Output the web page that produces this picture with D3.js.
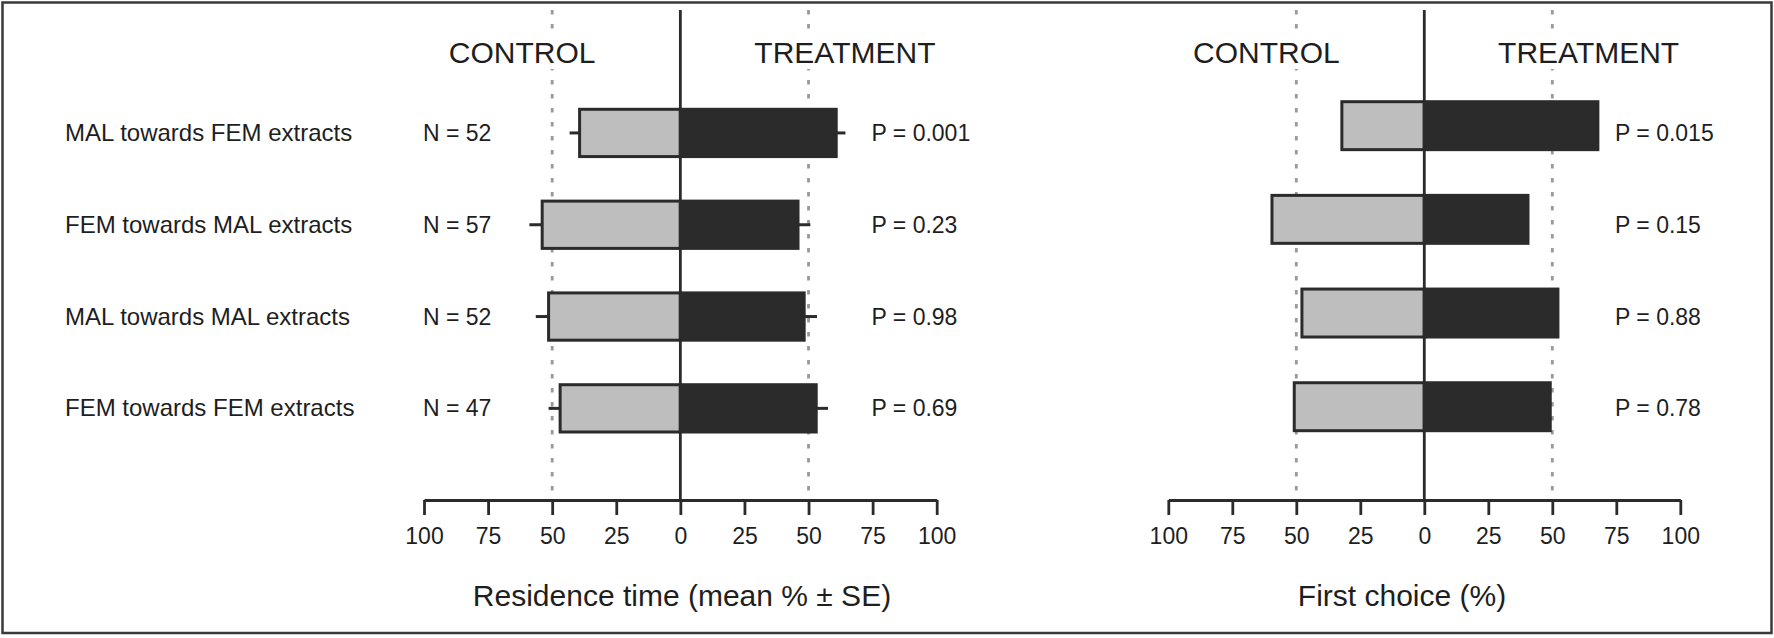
<!DOCTYPE html>
<html>
<head>
<meta charset="utf-8">
<script src="https://cdn.jsdelivr.net/npm/d3@7"></script>
<style>
  body { margin: 0; background: #fff; }
  svg { display: block; font-family: "Liberation Sans", Arial, Helvetica, sans-serif; }
</style>
</head>
<body>
<svg width="1774" height="638"></svg>
<script>
// data
var rows = ["MAL towards FEM extracts", "FEM towards MAL extracts", "MAL towards MAL extracts", "FEM towards FEM extracts"];
var nLabels = ["N = 52", "N = 57", "N = 52", "N = 47"];
var resControl = [39.3, 53.9, 51.4, 46.9];
var resControlSE = [3.9, 5.0, 5.0, 4.5];
var resTreat = [60.8, 45.9, 48.3, 53.0];
var resTreatSE = [3.6, 4.8, 5.0, 4.6];
var resP = ["P = 0.001", "P = 0.23", "P = 0.98", "P = 0.69"];
var choiceControl = [32.2, 59.5, 47.8, 50.8];
var choiceTreat = [67.8, 40.5, 52.2, 49.2];
var choiceP = ["P = 0.015", "P = 0.15", "P = 0.88", "P = 0.78"];
var tickVals = [-100, -75, -50, -25, 0, 25, 50, 75, 100];

var dark = "#2b2b2b", grey = "#bebebe", txt = "#1e1e1e";
var svg = d3.select("svg");

// outer frame
svg.append("rect").attr("x", 2.5).attr("y", 2.5).attr("width", 1769).attr("height", 630.5)
    .attr("fill", "none").attr("stroke", "#3a3a3a").attr("stroke-width", 2.5);

var axisY = 500, lineTop = 10;

// row positions (text rows follow the left panel)
var yL = d3.scaleBand().domain(rows).range([109.3, 432]).paddingInner(0.485).paddingOuter(0);
var yR = d3.scaleBand().domain(rows).range([101.7, 430.7]).paddingInner(0.488).paddingOuter(0);

var xL = d3.scaleLinear().domain([-100, 100]).range([424, 936.7]);
var xR = d3.scaleLinear().domain([-100, 100]).range([1168.3, 1680.3]);

function panel(x, y, ctrl, trt, ctrlSE, trtSE, pLabels, pX, title, titleX) {
    var g = svg.append("g");

    // dotted reference lines at 50 %
    g.selectAll(".ref").data([-50, 50]).enter().append("line")
        .attr("x1", function(d) { return x(d); }).attr("x2", function(d) { return x(d); })
        .attr("y1", lineTop).attr("y2", axisY)
        .attr("stroke", "#999").attr("stroke-width", 2.8).attr("stroke-dasharray", "4.5,9.5");

    // header labels, with white behind so the dotted lines break
    var heads = [{t: "CONTROL", v: -61.7}, {t: "TREATMENT", v: 64.2}];
    heads.forEach(function(h) {
        var t = g.append("text").attr("x", x(h.v)).attr("y", 63).attr("text-anchor", "middle")
            .attr("font-size", 30).attr("fill", txt).text(h.t);
        var bb = t.node().getBBox();
        g.insert("rect", "text").attr("x", bb.x).attr("y", 36).attr("width", bb.width).attr("height", 33).attr("fill", "#fff");
    });

    var bw = y.bandwidth();
    // control bars (left of zero)
    g.selectAll(".ctrl").data(rows).enter().append("rect")
        .attr("x", function(d, i) { return x(-ctrl[i]); })
        .attr("y", function(d) { return y(d); })
        .attr("width", function(d, i) { return x(0) - x(-ctrl[i]); })
        .attr("height", bw)
        .attr("fill", grey).attr("stroke", dark).attr("stroke-width", 3);
    // treatment bars
    g.selectAll(".trt").data(rows).enter().append("rect")
        .attr("x", x(0))
        .attr("y", function(d) { return y(d); })
        .attr("width", function(d, i) { return x(trt[i]) - x(0); })
        .attr("height", bw)
        .attr("fill", dark).attr("stroke", dark).attr("stroke-width", 3);

    // SE whiskers
    if (ctrlSE) {
        g.selectAll(".seC").data(rows).enter().append("line")
            .attr("x1", function(d, i) { return x(-ctrl[i]); })
            .attr("x2", function(d, i) { return x(-ctrl[i] - ctrlSE[i]); })
            .attr("y1", function(d) { return y(d) + bw / 2; }).attr("y2", function(d) { return y(d) + bw / 2; })
            .attr("stroke", dark).attr("stroke-width", 3);
        g.selectAll(".seT").data(rows).enter().append("line")
            .attr("x1", function(d, i) { return x(trt[i]); })
            .attr("x2", function(d, i) { return x(trt[i] + trtSE[i]); })
            .attr("y1", function(d) { return y(d) + bw / 2; }).attr("y2", function(d) { return y(d) + bw / 2; })
            .attr("stroke", dark).attr("stroke-width", 3);
    }

    // zero line
    g.append("line").attr("x1", x(0)).attr("x2", x(0)).attr("y1", lineTop).attr("y2", axisY)
        .attr("stroke", dark).attr("stroke-width", 2.8);

    // P values
    g.selectAll(".p").data(rows).enter().append("text")
        .attr("x", pX).attr("y", function(d) { return yL(d) + yL.bandwidth() / 2 + 8; })
        .attr("font-size", 23).attr("fill", txt)
        .text(function(d, i) { return pLabels[i]; });

    // axis
    var ax = g.append("g").attr("transform", "translate(0," + axisY + ")")
        .call(d3.axisBottom(x).tickValues(tickVals).tickSize(15).tickSizeOuter(0).tickPadding(13)
            .tickFormat(function(d) { return Math.abs(d); }));
    ax.select(".domain").attr("stroke", dark).attr("stroke-width", 2.8);
    ax.selectAll(".tick line").attr("stroke", dark).attr("stroke-width", 2.8);
    ax.selectAll(".tick text").attr("font-size", 23).attr("fill", txt)
        .attr("font-family", "Liberation Sans, Arial, Helvetica, sans-serif");

    g.append("text").attr("x", titleX).attr("y", 606).attr("text-anchor", "middle")
        .attr("font-size", 30).attr("fill", txt).text(title);
}

panel(xL, yL, resControl, resTreat, resControlSE, resTreatSE, resP, 871.5, "Residence time (mean % \u00b1 SE)", 682);
panel(xR, yR, choiceControl, choiceTreat, null, null, choiceP, 1615, "First choice (%)", 1402);

// row labels and sample sizes
svg.selectAll(".rowlab").data(rows).enter().append("text")
    .attr("x", 65).attr("y", function(d) { return yL(d) + yL.bandwidth() / 2 + 8; })
    .attr("font-size", 24).attr("fill", txt).text(function(d) { return d; });
svg.selectAll(".nlab").data(rows).enter().append("text")
    .attr("x", 423).attr("y", function(d) { return yL(d) + yL.bandwidth() / 2 + 8; })
    .attr("font-size", 23).attr("fill", txt).text(function(d, i) { return nLabels[i]; });
</script>
</body>
</html>
